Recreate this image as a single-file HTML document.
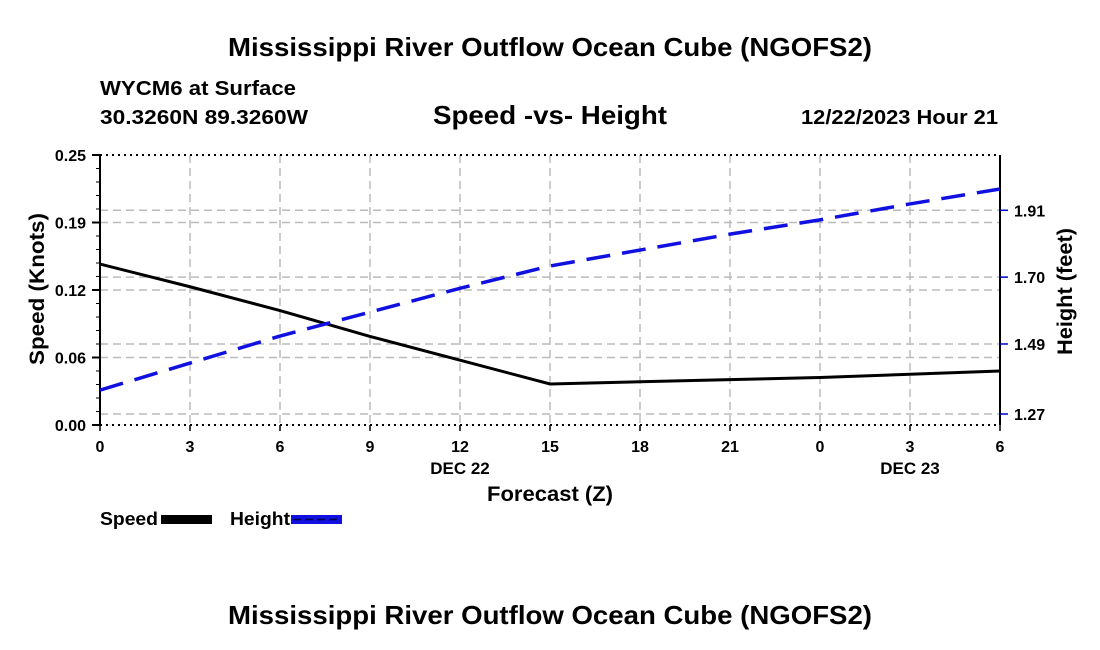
<!DOCTYPE html>
<html><head><meta charset="utf-8"><style>
body{margin:0;background:#fff;width:1100px;height:650px;overflow:hidden}
svg{display:block;font-family:"Liberation Sans",sans-serif;font-weight:bold}
</style></head><body>
<svg id="c" width="1100" height="650">
<text x="228" y="56" font-size="26" textLength="644" lengthAdjust="spacingAndGlyphs">Mississippi River Outflow Ocean Cube (NGOFS2)</text>
<text x="100" y="95" font-size="20" textLength="196" lengthAdjust="spacingAndGlyphs">WYCM6 at Surface</text>
<text x="100" y="124" font-size="20" textLength="208" lengthAdjust="spacingAndGlyphs">30.3260N  89.3260W</text>
<text x="433" y="124" font-size="26" textLength="234" lengthAdjust="spacingAndGlyphs">Speed -vs- Height</text>
<text x="801" y="124" font-size="20" textLength="197" lengthAdjust="spacingAndGlyphs">12/22/2023 Hour 21</text>
<text x="487" y="501" font-size="21" textLength="126" lengthAdjust="spacingAndGlyphs">Forecast (Z)</text>
<text transform="translate(44,365) rotate(-90)" font-size="21" textLength="152" lengthAdjust="spacingAndGlyphs">Speed (Knots)</text>
<text transform="translate(1072,355) rotate(-90)" font-size="21" textLength="127" lengthAdjust="spacingAndGlyphs">Height (feet)</text>
<text x="100" y="525" font-size="18" textLength="58" lengthAdjust="spacingAndGlyphs">Speed</text>
<rect x="161" y="515" width="51" height="9" fill="#000"/>
<text x="230" y="525" font-size="18" textLength="60" lengthAdjust="spacingAndGlyphs">Height</text>
<rect x="291" y="515" width="51" height="9" fill="#1010e0"/>
<line x1="293" y1="519.5" x2="340" y2="519.5" stroke="#000050" stroke-width="1.5" stroke-dasharray="8,4"/>
<text x="228" y="624" font-size="26" textLength="644" lengthAdjust="spacingAndGlyphs">Mississippi River Outflow Ocean Cube (NGOFS2)</text>
<g id="g"></g>
</svg>
<script>
const hours=[0,3,6,9,12,15,18,21,24,27,30];
const xLabels=["0","3","6","9","12","15","18","21","0","3","6"];
const speed=[0.149,0.128,0.106,0.082,0.060,0.038,0.040,0.042,0.044,0.047,0.050];
const height=[1.345,1.43,1.515,1.59,1.665,1.735,1.785,1.835,1.88,1.93,1.977];
const leftTicks=[0,0.0625,0.125,0.1875,0.25];
const leftLabels=["0.00","0.06","0.12","0.19","0.25"];
const rightTicks=[1.27,1.49,1.70,1.91];
const X0=100,X1=1000,Y0=425,Y1=155;
const xs=h=>X0+(h/30)*(X1-X0);
const ys=v=>Y0-(v/0.25)*(Y0-Y1);
const yr=v=>414-(v-1.27)*318.3;
const g=document.getElementById('g');const NS='http://www.w3.org/2000/svg';
function el(t,a,p){const e=document.createElementNS(NS,t);for(const k in a)e.setAttribute(k,a[k]);(p||g).appendChild(e);return e;}
hours.forEach((h,i)=>{if(i>0&&i<hours.length-1){const l=el('line',{x1:xs(h),x2:xs(h),y1:Y1,y2:Y0,stroke:'#bbb','stroke-width':1.5,'stroke-dasharray':'8,5'});

}});
leftTicks.slice(1,-1).forEach(v=>{const l=el('line',{x1:X0,x2:X1,y1:ys(v),y2:ys(v),stroke:'#bbb','stroke-width':1.5,'stroke-dasharray':'8,5'});

});
rightTicks.forEach(v=>{const l=el('line',{x1:X0,x2:X1,y1:yr(v),y2:yr(v),stroke:'#bbb','stroke-width':1.5,'stroke-dasharray':'8,5'});

});
el('line',{x1:X0,x2:X1,y1:Y1,y2:Y1,stroke:'#000','stroke-width':2,'stroke-dasharray':'2,4'});
el('line',{x1:X0,x2:X1,y1:Y0,y2:Y0,stroke:'#000','stroke-width':2,'stroke-dasharray':'2,4'});
el('line',{x1:X0,x2:X0,y1:Y1,y2:Y0,stroke:'#000','stroke-width':2});
el('line',{x1:X1,x2:X1,y1:Y1,y2:Y0,stroke:'#000','stroke-width':2});
for(let v=0;v<=0.25001;v+=0.0125){el('line',{x1:X0-4,x2:X0,y1:ys(v),y2:ys(v),stroke:'#000','stroke-width':1});}
leftTicks.forEach((v,i)=>{el('line',{x1:X0-8,x2:X0,y1:ys(v),y2:ys(v),stroke:'#000','stroke-width':2});
const t=el('text',{x:X0-14,y:ys(v)+6,'text-anchor':'end','font-size':16});t.textContent=leftLabels[i];

});
rightTicks.forEach(v=>{el('line',{x1:X1,x2:X1+8,y1:yr(v),y2:yr(v),stroke:'#0000c0','stroke-width':1.5});
const t=el('text',{x:X1+14,y:yr(v)+6,'font-size':16});t.textContent=v.toFixed(2);

});
hours.forEach((h,i)=>{el('line',{x1:xs(h),x2:xs(h),y1:Y0,y2:Y0+6,stroke:'#000','stroke-width':1.5});
const t=el('text',{x:xs(h),y:452,'text-anchor':'middle','font-size':16});t.textContent=xLabels[i];

});
[[xs(12),'DEC 22'],[xs(27),'DEC 23']].forEach(([x,s])=>{const t=el('text',{x:x,y:474,'text-anchor':'middle','font-size':17});t.textContent=s;

});
const sp=el('polyline',{points:hours.map((h,i)=>xs(h)+','+ys(speed[i])).join(' '),fill:'none',stroke:'#000','stroke-width':3});


const hp=el('polyline',{points:hours.map((h,i)=>xs(h)+','+yr(height[i])).join(' '),fill:'none',stroke:'#1010e0','stroke-width':3.5,'stroke-dasharray':'24,12'});


</script>
</body></html>
